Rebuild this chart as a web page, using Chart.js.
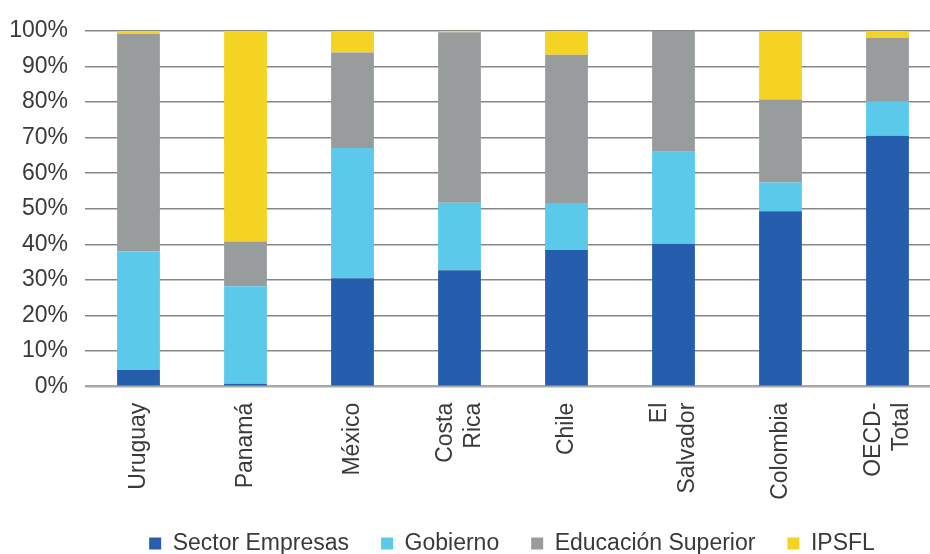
<!DOCTYPE html>
<html>
<head>
<meta charset="utf-8">
<script src="https://cdn.jsdelivr.net/npm/chart.js@4/dist/chart.umd.min.js"></script>
<style>
  html, body { margin: 0; padding: 0; background: #fff; overflow: hidden; width: 930px; height: 554px; }
  #c { position: absolute; left: 0; top: 0; }
</style>
</head>
<body>
<canvas id="c" width="1024" height="554"></canvas>
<script>
const categories = ['Uruguay', 'Panamá', 'México', ['Costa', 'Rica'], 'Chile', ['El', 'Salvador'], 'Colombia', ['OECD-', 'Total']];
const sectorEmpresas    = [4.7, 0.8, 30.5, 32.7, 38.4, 40.2, 49.3, 70.5];
const gobierno          = [33.3, 27.4, 36.6, 19.0, 13.2, 25.8, 8.1, 9.7];
const educacionSuperior = [61.1, 12.6, 26.8, 47.9, 41.7, 34.0, 23.3, 17.8];
const ipsfl             = [0.9, 59.2, 6.1, 0.4, 6.7, 0.0, 19.3, 2.0];
const seriesNames = ['Sector Empresas', 'Gobierno', 'Educación Superior', 'IPSFL'];
const yTicks = [0, 10, 20, 30, 40, 50, 60, 70, 80, 90, 100];

const FONT = "'Liberation Sans', Arial, sans-serif";
const TXT = '#3a3a3a';

const ds = (label, data, color) => ({
  label, data, backgroundColor: color, borderWidth: 0,
  barPercentage: 0.4, categoryPercentage: 1.0
});

// centre multi-line rotated category labels on their tick
const centerMultiline = {
  id: 'centerMultiline',
  beforeDraw(chart) {
    const s = chart.scales.x;
    if (!s || typeof s.getLabelItems !== 'function') return;
    const items = s.getLabelItems();
    items.forEach(it => {
      if (it && Array.isArray(it.label) && it.label.length > 1 && !it._centred &&
          it.options && Array.isArray(it.options.translation)) {
        const lh = (it.font && it.font.lineHeight) || 27.6;
        it.options.translation[0] -= (it.label.length - 1) * lh / 2;
        it._centred = true;
      }
    });
  }
};

new Chart(document.getElementById('c'), {
  type: 'bar',
  data: {
    labels: categories,
    datasets: [
      ds(seriesNames[0], sectorEmpresas, '#245EAD'),
      ds(seriesNames[1], gobierno, '#5BCAEA'),
      ds(seriesNames[2], educacionSuperior, '#999C9D'),
      ds(seriesNames[3], ipsfl, '#F5D322')
    ]
  },
  plugins: [centerMultiline],
  options: {
    responsive: false,
    animation: false,
    layout: { padding: { top: 29, left: 0, right: 0, bottom: 0 } },
    plugins: {
      tooltip: { enabled: false },
      legend: {
        position: 'bottom',
        maxHeight: 54,
        labels: {
          boxWidth: 12, boxHeight: 12, padding: 32,
          color: TXT,
          font: { family: FONT, size: 23 }
        }
      }
    },
    scales: {
      x: {
        stacked: true,
        grid: { display: false, drawTicks: false },
        border: { display: false },
        afterFit: s => { s.height = 113.3; },
        ticks: {
          minRotation: 90, maxRotation: 90, padding: 16,
          color: TXT, font: { family: FONT, size: 23 }
        }
      },
      y: {
        stacked: true,
        min: 0, max: 100,
        afterBuildTicks: s => { s.ticks = yTicks.map(v => ({ value: v })); },
        afterFit: s => { s.width = 85; },
        grid: {
          drawTicks: false,
          color: c => (c.tick && c.tick.value === 0) ? '#a8a8a8' : '#878787',
          lineWidth: c => (c.tick && c.tick.value === 0) ? 2.5 : 1.5
        },
        border: { display: false },
        ticks: {
          padding: 17,
          color: TXT, font: { family: FONT, size: 23 },
          callback: v => v + '%'
        }
      },
      y2: {
        position: 'right',
        display: true,
        grid: { display: false, drawTicks: false },
        border: { display: false },
        ticks: { display: false },
        afterFit: s => { s.width = 83; }
      }
    }
  }
});
</script>
</body>
</html>
